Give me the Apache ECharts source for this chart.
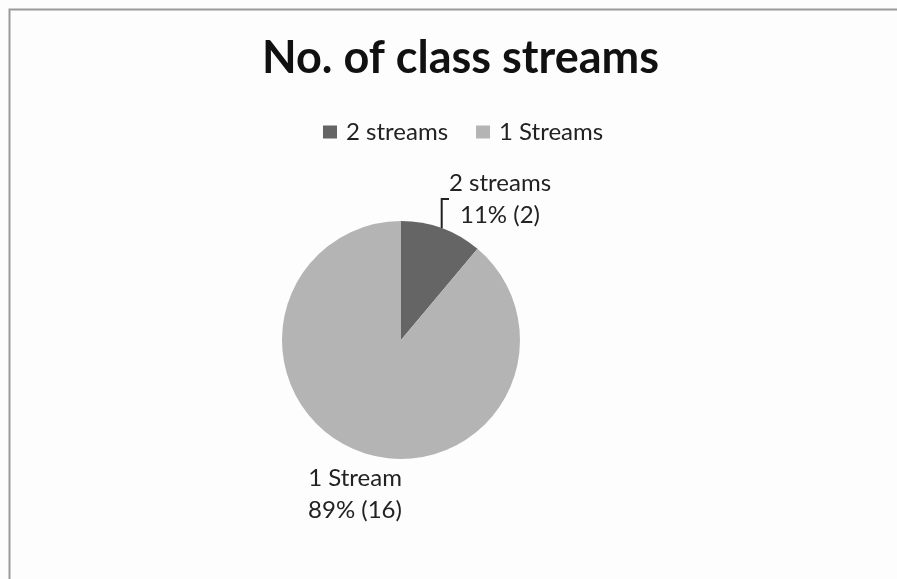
<!DOCTYPE html>
<html><head><meta charset="utf-8">
<script src="https://cdn.jsdelivr.net/npm/echarts@6/dist/echarts.min.js"></script>
<style>html,body{margin:0;padding:0;background:#fff}#c{width:897px;height:579px}</style>
</head><body><div id="c"></div>
<script>
const categories = ['2 streams', '1 Streams'];
const labelNames = ['2 streams', '1 Stream'];
const counts = [2, 16];
const percents = [11, 89];
const colors = ['#656565', '#b4b4b4'];

const chart = echarts.init(document.getElementById('c'));
const FONT = 'Lato';
chart.setOption({
  animation: false,
  backgroundColor: '#fdfdfd',
  graphic: [{
    type: 'rect', silent: true,
    shape: { x: 9.5, y: 9.5, width: 1000, height: 1000 },
    style: { fill: 'none', stroke: '#9a9a9a', lineWidth: 2 }
  }],
  title: {
    text: 'No. of class streams',
    left: 257, top: 31,
    textStyle: { fontFamily: FONT, fontSize: 45, fontWeight: 'bold', color: '#111' }
  },
  legend: {
    data: categories,
    left: 318, top: 115,
    itemWidth: 14, itemHeight: 13, itemGap: 28,
    icon: 'rect',
    textStyle: { fontFamily: FONT, fontSize: 24, color: '#222', padding: [0, 0, 0, 4] }
  },
  series: [{
    type: 'pie',
    center: [401, 340],
    radius: 119,
    startAngle: 90,
    clockwise: true,
    data: categories.map((n, i) => ({
      name: n, value: counts[i],
      itemStyle: { color: colors[i] },
      labelLine: { show: i === 0 },
      label: i === 0 ? { padding: [0, 0, 52, 0] } : {}
    })),
    label: {
      show: true,
      fontFamily: FONT, fontSize: 24, color: '#222', lineHeight: 32,
      formatter: p => labelNames[p.dataIndex] + '\n' + percents[p.dataIndex] + '% (' + p.value + ')'
    },
    labelLine: { length: 4, length2: 8, lineStyle: { color: '#222', width: 2 } },
    labelLayout: function (p) {
      if (p.dataIndex === 0) return { x: 500, y: 199, align: 'center', verticalAlign: 'middle' };
      return { x: 355, y: 494, align: 'center', verticalAlign: 'middle' };
    }
  }]
});
</script></body></html>
